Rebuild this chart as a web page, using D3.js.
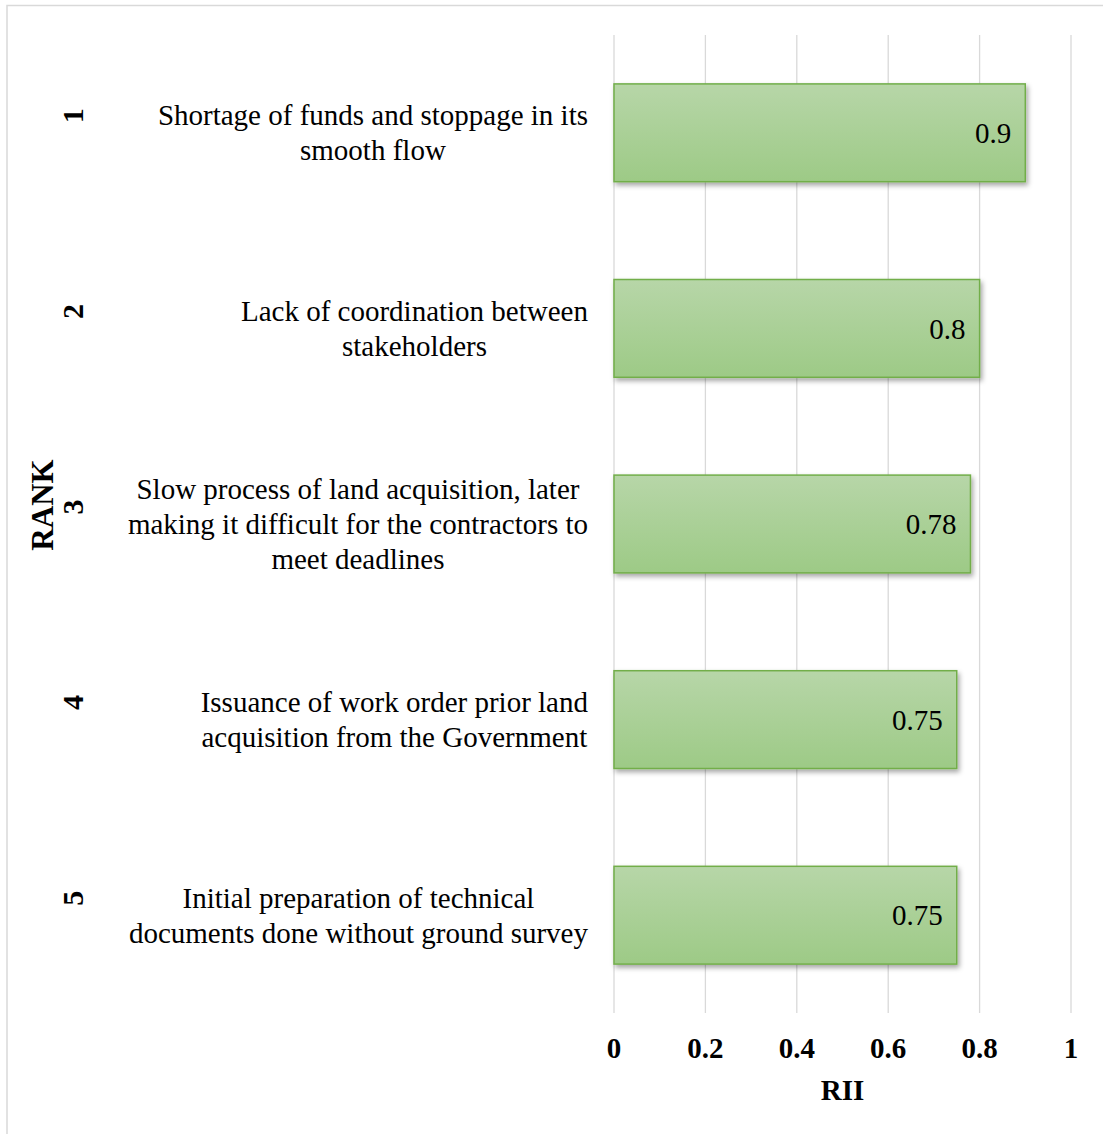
<!DOCTYPE html>
<html><head><meta charset="utf-8">
<script src="https://cdn.jsdelivr.net/npm/d3@7"></script>
<style>body{margin:0;background:#fff}svg{display:block}text{font-family:"Liberation Serif","Times New Roman",serif;fill:#000}</style>
</head><body>
<script>
const ranks = ["1","2","3","4","5"];
const categories = [
  ["Shortage of funds and stoppage in its","smooth flow"],
  ["Lack of coordination between","stakeholders"],
  ["Slow process of land acquisition, later","making it difficult for the contractors to","meet deadlines"],
  ["Issuance of work order prior land","acquisition from the Government"],
  ["Initial preparation of technical","documents done without ground survey"]
];
const values = [0.9, 0.8, 0.78, 0.75, 0.75];
const xTicks = [0, 0.2, 0.4, 0.6, 0.8, 1];
const xTitle = "RII", yTitle = "RANK";

const W = 1103, H = 1134;
const svg = d3.select("body").append("svg").attr("width", W).attr("height", H);
const defs = svg.append("defs");
const g1 = defs.append("linearGradient").attr("id","bg").attr("x1",0).attr("y1",0).attr("x2",0).attr("y2",1);
g1.append("stop").attr("offset","0%").attr("stop-color","#b7d6a8");
g1.append("stop").attr("offset","100%").attr("stop-color","#9dca86");
const f = defs.append("filter").attr("id","sh").attr("x","-5%").attr("y","-10%").attr("width","115%").attr("height","130%");
f.append("feDropShadow").attr("dx",2).attr("dy",3).attr("stdDeviation",2.5).attr("flood-color","#000").attr("flood-opacity",0.35);

svg.append("rect").attr("x",7).attr("y",5.5).attr("width",1100).attr("height",1140)
  .attr("fill","none").attr("stroke","#d9d9d9").attr("stroke-width",1.5);

const pL = 614, pR = 1071, pT = 35, pB = 1013;
const x = d3.scaleLinear().domain([0,1]).range([pL,pR]);
const y = d3.scaleBand().domain(ranks).range([pT,pB]).paddingInner(0.5).paddingOuter(0.25);

// gridlines
svg.append("g").selectAll("line").data(xTicks).join("line")
  .attr("x1",d=>x(d)).attr("x2",d=>x(d)).attr("y1",pT).attr("y2",pB)
  .attr("stroke","#d9d9d9").attr("stroke-width",1.3);

// bars
svg.append("g").selectAll("rect").data(values).join("rect")
  .attr("x",x(0)).attr("y",(d,i)=>y(ranks[i]))
  .attr("width",d=>x(d)-x(0)).attr("height",y.bandwidth())
  .attr("fill","url(#bg)").attr("stroke","#72ae4a").attr("stroke-width",1.5)
  .attr("filter","url(#sh)");

// value labels
svg.append("g").selectAll("text").data(values).join("text")
  .attr("x",d=>x(d)-14).attr("y",(d,i)=>y(ranks[i])+y.bandwidth()/2)
  .attr("dy","0.35em").attr("text-anchor","end").attr("font-size",29)
  .text(d=>String(d));

// x axis tick labels
svg.append("g").selectAll("text").data(xTicks).join("text")
  .attr("x",d=>x(d)).attr("y",1058).attr("text-anchor","middle")
  .attr("font-size",29).attr("font-weight","bold").text(d=>d3.format("")(d));
svg.append("text").attr("x",(pL+pR)/2).attr("y",1100).attr("text-anchor","middle")
  .attr("font-size",29).attr("font-weight","bold").text(xTitle);

// category labels: block right-aligned at 588, lines centered
const lh = 35;
categories.forEach((lines,i)=>{
  const cy = y(ranks[i]) + y.bandwidth()/2;
  const grp = svg.append("g");
  const ts = lines.map((l,k)=>grp.append("text").attr("font-size",29)
     .attr("y", cy + (k - (lines.length-1)/2)*lh).attr("dy","0.35em").text(l));
  const wmax = d3.max(ts, t=>t.node().getComputedTextLength());
  const cx = 588 - wmax/2;
  ts.forEach(t=>t.attr("x",cx).attr("text-anchor","middle"));
});

// rank labels (rotated)
svg.append("g").selectAll("text").data(ranks).join("text")
  .attr("transform",d=>`translate(83,${y(d)+y.bandwidth()/2-17}) rotate(-90)`)
  .attr("text-anchor","middle").attr("font-size",30).attr("font-weight","bold").text(d=>d);
svg.append("text").attr("transform","translate(53,505) rotate(-90)")
  .attr("text-anchor","middle").attr("font-size",31).attr("font-weight","bold").text(yTitle);
</script>
</body></html>
